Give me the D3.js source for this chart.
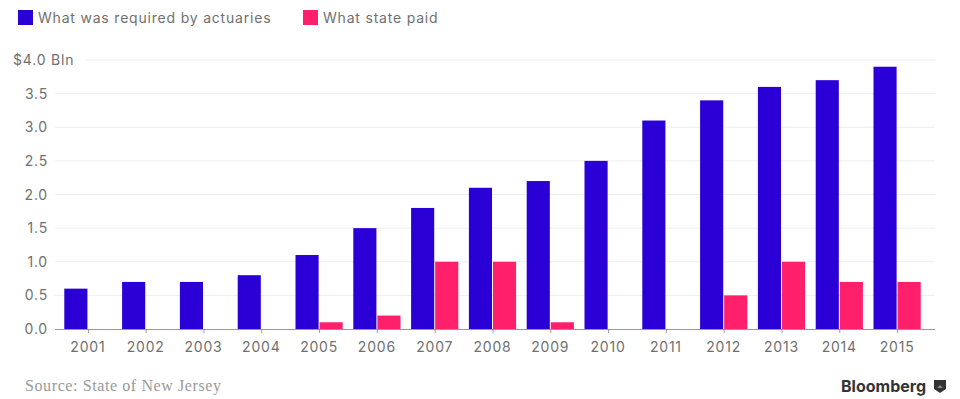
<!DOCTYPE html>
<html>
<head>
<meta charset="utf-8">
<script src="https://cdn.jsdelivr.net/npm/d3@7/dist/d3.min.js"></script>
<style>
  html, body { margin: 0; padding: 0; background: #fff; }
  svg { display: block; }
</style>
</head>
<body>
<svg id="chart" width="960" height="399"></svg>
<script>
// Pension contributions, New Jersey ($ billions)
const years = ["2001","2002","2003","2004","2005","2006","2007","2008","2009","2010","2011","2012","2013","2014","2015"];
const required = [0.6, 0.7, 0.7, 0.8, 1.1, 1.5, 1.8, 2.1, 2.2, 2.5, 3.1, 3.4, 3.6, 3.7, 3.9];
const paid     = [0,   0,   0,   0,   0.1, 0.2, 1.0, 1.0, 0.1, 0,   0,   0.5, 1.0, 0.7, 0.7];
const seriesNames = ["What was required by actuaries", "What state paid"];
const yTicks = [0, 0.5, 1.0, 1.5, 2.0, 2.5, 3.0, 3.5, 4.0];

const colors = ["#2a00d6", "#ff1f6a"];
const textGray = "#707070";

const svg = d3.select("#chart");
const font = "Inter, 'Open Sans', sans-serif";
const spacing = "0.8px";

const x = d3.scaleBand().domain(years).range([59, 926]);
const sub = d3.scaleBand().domain(seriesNames).range([0, x.bandwidth()]).paddingInner(0.04).paddingOuter(0.22);
const y = d3.scaleLinear().domain([0, 4]).range([329, 60]);

// Gridlines
svg.append("g").selectAll("line")
  .data(yTicks.filter(t => t > 0))
  .join("line")
  .attr("x1", t => t === 4 ? 85 : 55)
  .attr("x2", 935)
  .attr("y1", t => y(t)).attr("y2", t => y(t))
  .attr("stroke", "#eeeeee").attr("stroke-width", 1);

// Y labels
svg.append("g").selectAll("text")
  .data(yTicks)
  .join("text")
  .attr("x", t => t === 4 ? 13 : 48)
  .attr("y", t => y(t) + 5)
  .attr("text-anchor", t => t === 4 ? "start" : "end")
  .attr("font-family", font).attr("font-size", 14)
  .attr("letter-spacing", spacing)
  .attr("fill", textGray)
  .text(t => t === 4 ? "$4.0 Bln" : d3.format(".1f")(t));

// Bars
const rows = years.map((yr, i) => ({ year: yr, vals: [required[i], paid[i]] }));
const groups = svg.append("g").selectAll("g")
  .data(rows).join("g")
  .attr("transform", d => `translate(${x(d.year)},0)`);
groups.selectAll("rect")
  .data(d => d.vals.map((v, k) => ({ v, k })))
  .join("rect")
  .attr("x", d => sub(seriesNames[d.k]))
  .attr("width", sub.bandwidth())
  .attr("y", d => y(d.v))
  .attr("height", d => y(0) - y(d.v))
  .attr("fill", d => colors[d.k]);

// X axis baseline and ticks
svg.append("line")
  .attr("x1", 55).attr("x2", 935)
  .attr("y1", y(0) + 0.5).attr("y2", y(0) + 0.5)
  .attr("stroke", "#999").attr("stroke-width", 1);
svg.append("g").selectAll("line")
  .data(years).join("line")
  .attr("x1", d => x(d) + x.bandwidth() / 2 + 0.5)
  .attr("x2", d => x(d) + x.bandwidth() / 2 + 0.5)
  .attr("y1", y(0)).attr("y2", y(0) + 4)
  .attr("stroke", "#999");
svg.append("g").selectAll("text")
  .data(years).join("text")
  .attr("x", d => x(d) + x.bandwidth() / 2)
  .attr("y", 352)
  .attr("text-anchor", "middle")
  .attr("font-family", font).attr("font-size", 14)
  .attr("letter-spacing", spacing)
  .attr("fill", textGray)
  .text(d => d);

// Legend
const legendX = [18, 303];
const legend = svg.append("g").selectAll("g")
  .data(seriesNames).join("g")
  .attr("transform", (d, i) => `translate(${legendX[i]},10)`);
legend.append("rect")
  .attr("width", 15).attr("height", 15)
  .attr("fill", (d, i) => colors[i]);
legend.append("text")
  .attr("x", 20).attr("y", 12.5)
  .attr("font-family", font).attr("font-size", 14)
  .attr("letter-spacing", spacing)
  .attr("fill", textGray)
  .text(d => d);

// Footer
svg.append("text")
  .attr("x", 25).attr("y", 391)
  .attr("font-family", "'Liberation Serif', 'DejaVu Serif', serif")
  .attr("font-size", 16)
  .attr("letter-spacing", "0.6px")
  .attr("fill", "#999")
  .text("Source: State of New Jersey");
svg.append("text")
  .attr("x", 926).attr("y", 392)
  .attr("text-anchor", "end")
  .attr("font-family", font).attr("font-size", 16).attr("font-weight", 700)
  .attr("fill", "#333")
  .text("Bloomberg");
const icon = svg.append("g").attr("transform", "translate(934,380)");
icon.append("path")
  .attr("d", "M0,0 H12 V9 L6,13 L0,9 Z")
  .attr("fill", "#333");
icon.append("path")
  .attr("d", "M3,8 L6,5 L9,8 Z")
  .attr("fill", "#888");
</script>
</body>
</html>
